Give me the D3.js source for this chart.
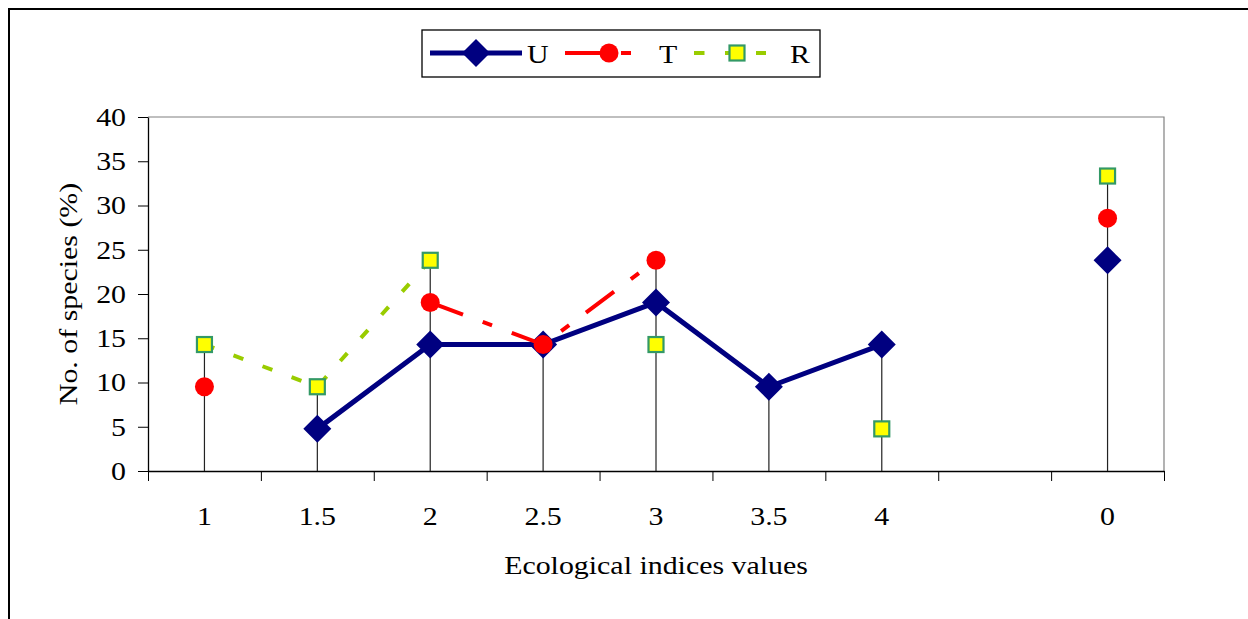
<!DOCTYPE html>
<html>
<head>
<meta charset="utf-8">
<script src="https://cdn.jsdelivr.net/npm/d3@7"></script>
<style>
  html, body { margin: 0; padding: 0; background: #fff; }
  svg { display: block; }
  text { font-family: "Liberation Serif", "Times New Roman", serif; fill: #000; }
</style>
</head>
<body>
<svg id="chart" width="1248" height="619"></svg>
<script>
// Category labels along the x axis (the 8th slot is intentionally blank)
const categories = ["1", "1.5", "2", "2.5", "3", "3.5", "4", "", "0"];

// Share of species (%) per index value; null = no species in that class
const seriesU = [null, 4.76, 14.29, 14.29, 19.05, 9.52, 14.29, null, 23.81];
const seriesT = [9.52, null, 19.05, 14.29, 23.81, null, null, null, 28.57];
const seriesR = [14.29, 9.52, 23.81, null, 14.29, null, 4.76, null, 33.33];

const yTicks = [0, 5, 10, 15, 20, 25, 30, 35, 40];
const seriesNames = ["U", "T", "R"];

const svg = d3.select("#chart");
const W = 1248, H = 619;
const plot = { left: 148, top: 117, right: 1164, bottom: 471 };
const FS = "26px";     // text size
const SX = 1.15;       // horizontal text stretch

// Outer frame (left and top edges visible)
svg.append("path")
  .attr("d", `M9,${H} L9,9 L${W},9`)
  .attr("fill", "none").attr("stroke", "#000").attr("stroke-width", 2);

// Scales: linear over slot boundaries so ticks fall between categories
const xEdge = d3.scaleLinear().domain([0, categories.length]).range([plot.left, plot.right]);
const xc = i => xEdge(i + 0.5);
const y = d3.scaleLinear().domain([0, 40]).range([plot.bottom, plot.top]);

// Plot area border (top and right)
svg.append("path")
  .attr("d", `M${plot.left},${plot.top} L${plot.right},${plot.top} L${plot.right},${plot.bottom}`)
  .attr("fill", "none").attr("stroke", "#808080").attr("stroke-width", 1.2);

// Y axis
const yAxis = svg.append("g")
  .attr("transform", `translate(${plot.left},0)`)
  .call(d3.axisLeft(y).tickValues(yTicks).tickSize(10).tickPadding(22 / SX - 10).tickSizeOuter(0));
yAxis.select(".domain").attr("stroke", "#000").attr("stroke-width", 1.3);
yAxis.selectAll(".tick line").attr("stroke", "#000").attr("stroke-width", 1);
yAxis.selectAll(".tick text")
  .attr("transform", `scale(${SX},1)`)
  .style("font-family", "Liberation Serif, serif")
  .style("font-size", FS);

// X axis: ticks at slot boundaries, labels at slot centres
const xAxis = svg.append("g")
  .attr("transform", `translate(0,${plot.bottom})`)
  .call(d3.axisBottom(xEdge).tickValues(d3.range(categories.length + 1)).tickSize(10).tickFormat("").tickSizeOuter(0));
xAxis.select(".domain").attr("stroke", "#000").attr("stroke-width", 1.3);
xAxis.selectAll(".tick line").attr("stroke", "#000").attr("stroke-width", 1);

// Stretched text placed at (x, y)
function label(parent, x, yy, str, anchor, extra) {
  return parent.append("text")
    .attr("transform", `translate(${x},${yy}) ${extra || ""} scale(${SX},1)`)
    .attr("text-anchor", anchor)
    .attr("dominant-baseline", "central")
    .style("font-size", FS)
    .text(str);
}

const xl = svg.append("g");
categories.forEach((c, i) => label(xl, xc(i), plot.bottom + 45, c, "middle"));

// Axis titles
label(svg, (plot.left + plot.right) / 2, 565, "Ecological indices values", "middle");
label(svg, 68, (plot.top + plot.bottom) / 2, "No. of species (%)", "middle", "rotate(-90)");

// Drop lines from the highest value in each slot down to zero
const maxima = categories.map((c, i) => {
  const vals = [seriesU[i], seriesT[i], seriesR[i]].filter(v => v != null);
  return vals.length ? d3.max(vals) : null;
});
svg.append("g").selectAll("line")
  .data(maxima.map((v, i) => ({ v, i })).filter(d => d.v != null))
  .join("line")
  .attr("x1", d => xc(d.i)).attr("x2", d => xc(d.i))
  .attr("y1", d => y(d.v)).attr("y2", y(0))
  .attr("stroke", "#222").attr("stroke-width", 1.2);

const line = d3.line()
  .defined(d => d.v != null)
  .x(d => xc(d.i))
  .y(d => y(d.v));
const toPts = arr => arr.map((v, i) => ({ v, i }));

const styles = {
  U: { stroke: "#000080", width: 5, dash: null },
  T: { stroke: "#FF0000", width: 4, dash: "35,21,10,21" },
  R: { stroke: "#99CC00", width: 4, dash: "10.5,20.5" }
};

function marker(g, name, cx, cy) {
  if (name === "U") {
    g.append("path")
      .attr("transform", `translate(${cx},${cy})`)
      .attr("d", "M0,-14 L14,0 L0,14 L-14,0 Z")
      .attr("fill", "#000080");
  } else if (name === "T") {
    g.append("circle").attr("cx", cx).attr("cy", cy).attr("r", 9.5).attr("fill", "#FF0000");
  } else {
    g.append("rect").attr("x", cx - 7.5).attr("y", cy - 7.5).attr("width", 15).attr("height", 15)
      .attr("fill", "#FFFF00").attr("stroke", "#339966").attr("stroke-width", 2.2);
  }
}

[["U", seriesU], ["T", seriesT], ["R", seriesR]].forEach(([name, arr]) => {
  const s = styles[name];
  const g = svg.append("g");
  g.append("path")
    .attr("d", line(toPts(arr)))
    .attr("fill", "none")
    .attr("stroke", s.stroke)
    .attr("stroke-width", s.width)
    .attr("stroke-dasharray", s.dash);
  toPts(arr).filter(d => d.v != null).forEach(d => marker(g, name, xc(d.i), y(d.v)));
});

// Legend
const lg = svg.append("g");
lg.append("rect").attr("x", 422).attr("y", 30).attr("width", 398).attr("height", 47)
  .attr("fill", "#fff").attr("stroke", "#000").attr("stroke-width", 1.3);
const legendItems = [
  { name: "U", x1: 430, x2: 522, mx: 476, tx: 527 },
  { name: "T", x1: 565, x2: 632, mx: 609, tx: 659 },
  { name: "R", x1: 694, x2: 766, mx: 737, tx: 790 }
];
legendItems.forEach(it => {
  const s = styles[it.name];
  lg.append("line").attr("x1", it.x1).attr("x2", it.x2).attr("y1", 53).attr("y2", 53)
    .attr("stroke", s.stroke).attr("stroke-width", s.width).attr("stroke-dasharray", s.dash);
  marker(lg, it.name, it.mx, 53);
  label(lg, it.tx, 54, it.name, "start");
});
</script>
</body>
</html>
